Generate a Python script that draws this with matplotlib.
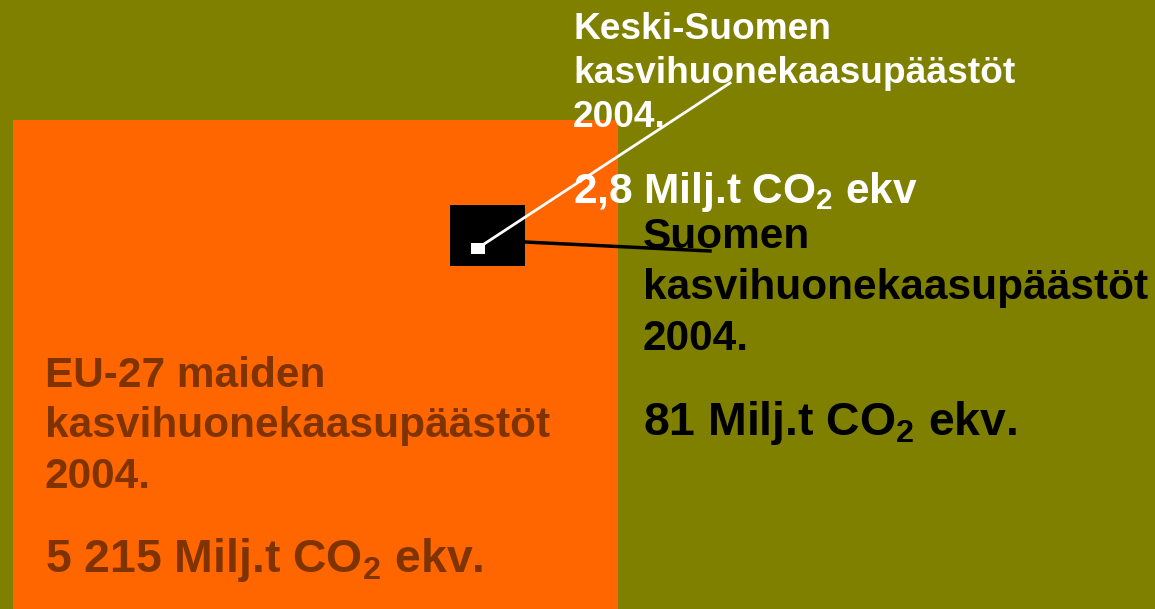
import numpy as np
import matplotlib
matplotlib.use("Agg")
import matplotlib.pyplot as plt
from matplotlib.patches import Rectangle

plt.rcParams['font.family'] = ['Liberation Sans', 'DejaVu Sans']
plt.rcParams['font.weight'] = 'bold'
plt.rcParams['mathtext.fontset'] = 'custom'
plt.rcParams['mathtext.rm'] = 'Liberation Sans:bold'
plt.rcParams['mathtext.it'] = 'Liberation Sans:bold'
plt.rcParams['mathtext.bf'] = 'Liberation Sans:bold'

# päästöt 2004, Milj.t CO2 ekv
regions = ['EU-27', 'Suomi', 'Keski-Suomi']
emissions = [5215, 81, 2.8]

eu_lines = ['EU-27 maiden', 'kasvihuonekaasupäästöt', '2004.']
eu_value = '5 215 Milj.t CO$_2$ ekv.'
fi_lines = ['Suomen', 'kasvihuonekaasupäästöt', '2004.']
fi_value = '81 Milj.t CO$_2$ ekv.'
ks_lines = ['Keski-Suomen', 'kasvihuonekaasupäästöt', '2004.']
ks_value = '2,8 Milj.t CO$_2$ ekv'

W, H = 1155, 609
fig = plt.figure(figsize=(W / 100, H / 100), dpi=100)
fig.patch.set_facecolor('#808000')
ax = fig.add_axes([0, 0, 1, 1])
ax.set_xlim(0, W)
ax.set_ylim(H, 0)
ax.axis('off')

# box area ~ emissions (pixels^2 per Mt)
k = 605 * 489 / emissions[0]
aspect = 1.237
sizes = [(np.sqrt(k * e * aspect), np.sqrt(k * e / aspect)) for e in emissions]

w0, h0 = sizes[0]
ax.add_patch(Rectangle((13, 120), w0, h0, color='#FF6600', lw=0, zorder=1))
w1, h1 = sizes[1]
ax.add_patch(Rectangle((450, 205), w1, h1, color='black', lw=0, zorder=2))
w2, h2 = sizes[2]
ax.add_patch(Rectangle((471, 243), w2, h2, color='white', lw=0, zorder=3))

# leader lines
ax.plot([478, 730], [248, 83], color='white', lw=2, zorder=4)
ax.plot([525, 710], [242, 251], color='black', lw=2.5, zorder=4)

# Keski-Suomi text (white)
for i, s in enumerate(ks_lines):
    ax.text(573, 39 + 44 * i, s, color='white', fontsize=26.7, va='baseline', zorder=5)
ax.text(573, 203, ks_value, color='white', fontsize=30.5, va='baseline', zorder=5)

# Suomi text (black)
for i, s in enumerate(fi_lines):
    ax.text(643, 248 + 51 * i, s, color='black', fontsize=30.5, va='baseline', zorder=5)
ax.text(643, 435, fi_value, color='black', fontsize=33.4, va='baseline', zorder=5)

# EU text (brown)
for i, s in enumerate(eu_lines):
    ax.text(45, 387 + 50.5 * i, s, color='#7F3300', fontsize=30.5, va='baseline', zorder=5)
ax.text(45, 572, eu_value, color='#7F3300', fontsize=33.4, va='baseline', zorder=5)

fig.savefig('out.png', dpi=100, facecolor=fig.get_facecolor())
